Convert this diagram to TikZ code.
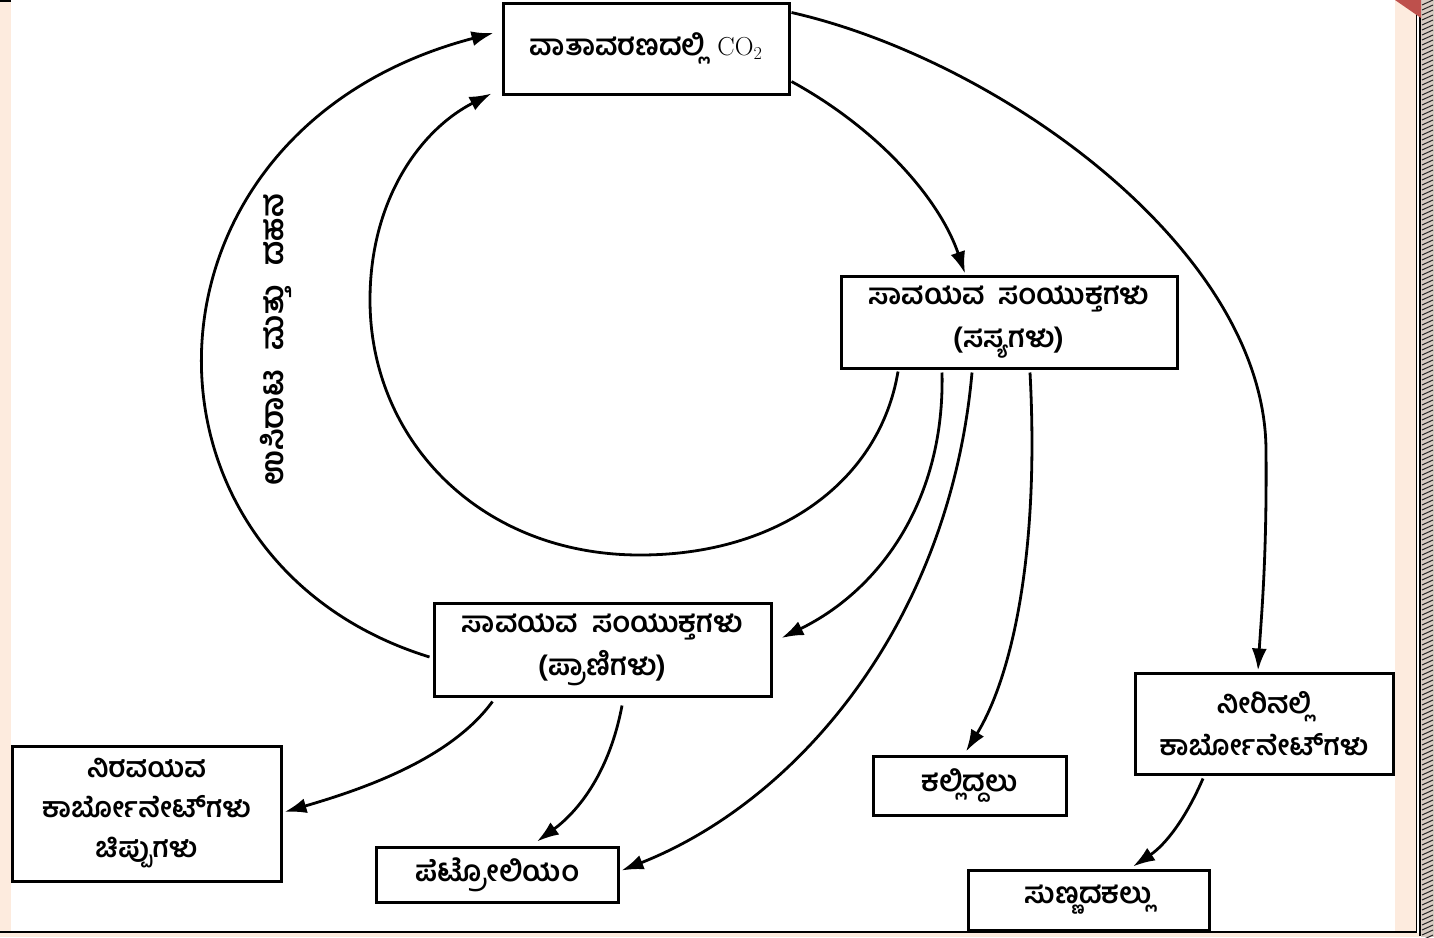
\documentclass[tikz,border=0pt]{standalone}
\usepackage{fontspec}
\newfontfamily\kn[Script=Kannada]{Hind Mysuru}
\usetikzlibrary{arrows.meta,calc}
\definecolor{peach}{RGB}{253,235,222}
\definecolor{redtri}{RGB}{190,80,76}
\begin{document}
\begin{tikzpicture}[x=1pt,y=-1pt,
  box/.style={draw=black,line width=3pt,fill=white,inner sep=0pt,align=center,
    font=\kn\bfseries\fontsize{29}{43}\selectfont},
  link/.style={line width=2.8pt,-{Latex[length=22pt,width=15pt]}},
  lbl/.style={font=\kn\bfseries\fontsize{31}{36}\selectfont,inner sep=0pt}]
\useasboundingbox (0,0) rectangle (1434,937);
% frame decorations
\fill[white] (0,0) rectangle (1434,937);
\fill[peach] (0,0) rectangle (11,937);
\fill[black] (0,0) rectangle (11,1.5);
\fill[peach] (1395,0) rectangle (1416,937);
\fill[peach] (0,933) rectangle (1420,937);
\fill[peach!70!gray] (1421,0) rectangle (1434,937);
\foreach \yy in {0,5,...,936} \draw[black!85,line width=1pt] (1422,\yy+5) -- (1433,\yy);
\draw[line width=1.6pt] (1416.5,0) -- (1416.5,932);
\draw[line width=1.6pt] (1420,0) -- (1420,936);
\draw[line width=2pt] (0,931.5) -- (1417,931.5);
\fill[redtri] (1395,0) -- (1421,0) -- (1421,18) -- cycle;

% nodes
\node[box,minimum width=286pt,minimum height=91pt] (atm) at (646,48.5) {ವಾತಾವರಣದಲ್ಲಿ\hspace{12pt}{\fontspec{Latin Modern Roman}\mdseries\fontsize{26}{30}\selectfont CO\textsubscript{2}}};
\node[box,minimum width=336pt,minimum height=92pt] (plants) at (1009,322) {ಸಾವಯವ\hspace{14pt}ಸಂಯುಕ್ತಗಳು\\(ಸಸ್ಯಗಳು)};
\node[box,minimum width=337pt,minimum height=93pt] (animals) at (602.5,649.5) {ಸಾವಯವ\hspace{14pt}ಸಂಯುಕ್ತಗಳು\\(ಪ್ರಾಣಿಗಳು)};
\node[box,minimum width=269pt,minimum height=135pt,font=\kn\bfseries\fontsize{28}{40}\selectfont] (inorg) at (146.5,813.5) {ನಿರವಯವ\\ಕಾರ್ಬೋನೇಟ್‌ಗಳು\\ಚಿಪ್ಪುಗಳು};
\node[box,minimum width=258pt,minimum height=101pt,font=\kn\bfseries\fontsize{28}{42}\selectfont] (water) at (1264,723.5) {ನೀರಿನಲ್ಲಿ\\ಕಾರ್ಬೋನೇಟ್‌ಗಳು};
\node[box,minimum width=242pt,minimum height=55pt] (petrol) at (497,874.5) {ಪೆಟ್ರೋಲಿಯಂ};
\node[box,minimum width=193pt,minimum height=59pt] (coal) at (969.5,785.5) {ಕಲ್ಲಿದ್ದಲು};
\node[box,minimum width=241pt,minimum height=60pt] (lime) at (1088.5,900) {ಸುಣ್ಣದಕಲ್ಲು};

\node[lbl,rotate=90] (resp) at (276,340) {ಉಸಿರಾಟ\hspace{20pt}ಮತ್ತು\hspace{20pt}ದಹನ};

% connectors
\draw[link] ($(animals.west)+(-3,7.5)$) .. controls (115,560) and (122,130) .. ($(atm.west)+(-8,-15.5)$);
\draw[link] ($(plants.south)+(-111,2)$) .. controls (880,480) and (780,555) .. (640,555)
   .. controls (480,555) and (370,440) .. (370,300)
   .. controls (370,200) and (420,130) .. ($(atm.south west)+(-10,-2)$);
\draw[link] ($(atm.south east)+(1,-14)$) .. controls (880,130) and (940,200) .. ($(plants.north)+(-44,-1)$);
\draw[link] ($(atm.north east)+(1,11)$) .. controls (1000,60) and (1265,250) .. (1266,450)
   .. controls (1267,560) and (1261,620) .. ($(water.north)+(-6,-1)$);
\draw[link] ($(plants.south)+(-67,3)$) .. controls (945,500) and (880,590) .. ($(animals.east)+(9,-11.5)$);
\draw[link] ($(plants.south)+(-37,3)$) .. controls (950,620) and (800,800) .. ($(petrol.east)+(2,-4)$);
\draw[link] ($(plants.south)+(21,3)$) .. controls (1040,560) and (1010,680) .. ($(coal.north)+(-3.5,-3)$);
\draw[link] ($(animals.south west)+(60,4)$) .. controls (450,760) and (360,790) .. ($(inorg.east)+(2,-1.5)$);
\draw[link] ($(animals.south)+(19.5,8)$) .. controls (610,770) and (580,810) .. ($(petrol.north)+(40,-4)$);
\draw[link] ($(water.south)+(-61,3)$) .. controls (1185,820) and (1165,845) .. ($(lime.north)+(44.5,-2)$);
\end{tikzpicture}
\end{document}
